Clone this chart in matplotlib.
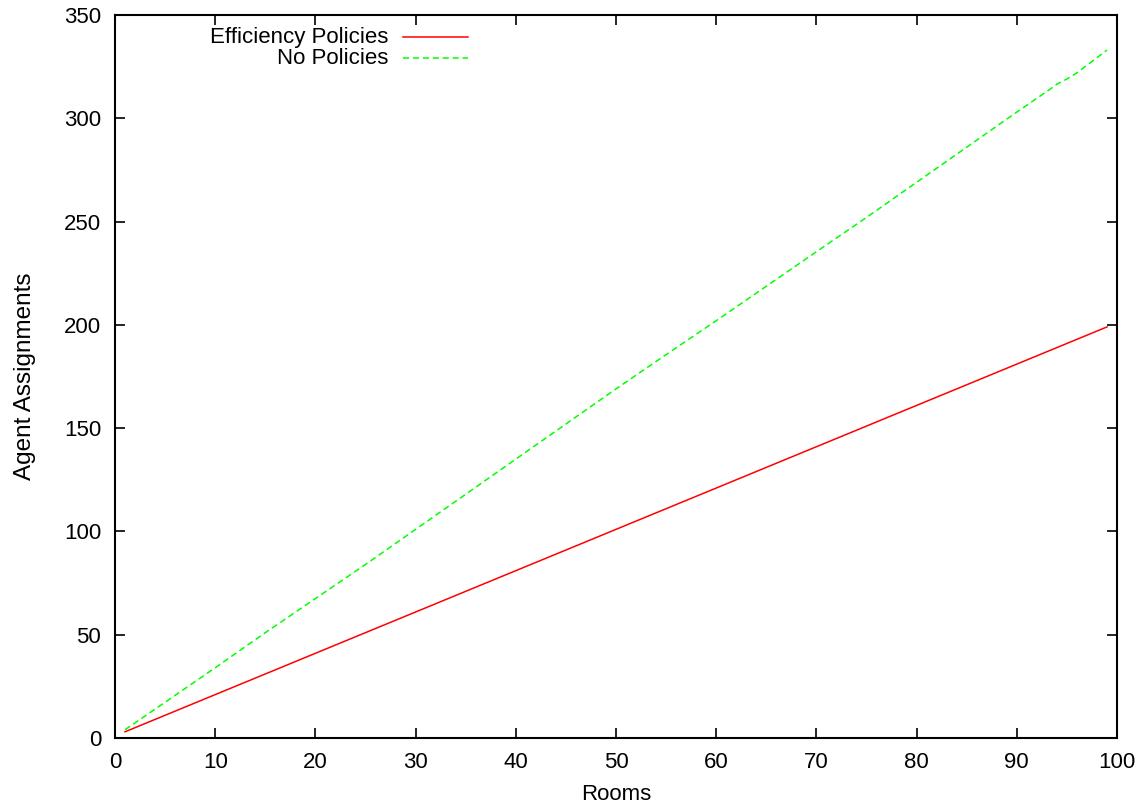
import matplotlib
matplotlib.use("Agg")
import matplotlib.pyplot as plt

plt.rcParams['font.family'] = ['Liberation Sans', 'DejaVu Sans']

# Data
eff_rooms = [1, 25, 50, 75, 99]
eff_values = [3, 51, 101, 151, 199]

nop_rooms = [1, 5, 10, 15, 20, 25, 30, 35, 40, 45, 50, 55, 60, 65, 70, 75,
             80, 85, 90, 93, 94, 95, 96, 99]
nop_values = [4, 17.3, 34, 51, 67.5, 84, 101, 118, 135, 152, 169, 185.6, 202,
              218.7, 235.4, 252, 269, 286, 303, 313, 316.5, 319, 322, 333]

series_labels = ["Efficiency Policies", "No Policies"]
x_ticks = list(range(0, 101, 10))
y_ticks = list(range(0, 351, 50))

FS = 16

fig = plt.figure(figsize=(11.46, 8.07), dpi=100)
ax = fig.add_axes([115/1146, 1 - 738/807, 1002/1146, 723/807])

red = "#ff0000"
green = "#00ff00"
ax.plot(eff_rooms, eff_values, color=red, lw=1.1)
ax.plot(nop_rooms, nop_values, color=green, lw=1.1, dashes=(4, 2.5))

ax.set_xlim(0, 100)
ax.set_ylim(0, 350)
ax.set_xticks(x_ticks)
ax.set_yticks(y_ticks)
ax.tick_params(direction='in', length=7, width=1.2, top=True, right=True,
               labelsize=FS, colors='black')
ax.tick_params(axis='y', pad=10)
ax.tick_params(axis='x', pad=10)
for s in ax.spines.values():
    s.set_linewidth(1.5)

ax.set_xlabel("Rooms", fontsize=FS, labelpad=8)
ax.set_ylabel("Agent Assignments", fontsize=17.5, labelpad=20)

# gnuplot-style key: right-aligned text followed by sample line
tx = (388 - 115) / 1002
lx0 = (403 - 115) / 1002
lx1 = (468 - 115) / 1002
rows = [(738 - 37) / 723, (738 - 58) / 723]
styles = [dict(color=red, lw=1.1), dict(color=green, lw=1.1, dashes=(4, 2.5))]
for lab, yy, st in zip(series_labels, rows, styles):
    ax.text(tx, yy, lab, transform=ax.transAxes, ha='right', va='center',
            fontsize=FS)
    ax.plot([lx0, lx1], [yy, yy], transform=ax.transAxes, clip_on=False, **st)

fig.savefig("out.png", dpi=100)
